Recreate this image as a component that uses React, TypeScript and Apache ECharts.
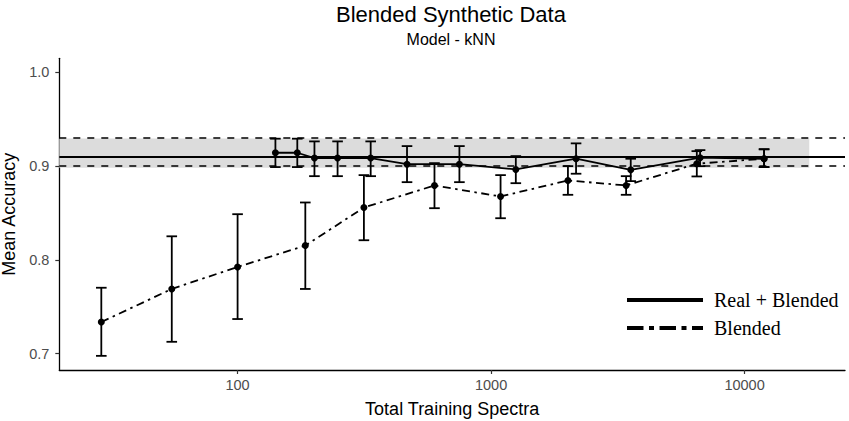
import React, { useEffect, useRef } from "react";
import * as echarts from "echarts";

// ---- data ----
const xBlended = [29, 55, 100, 185, 315, 598, 1090, 2010, 3410, 6480, 11940];
const blendedMean = [0.7336, 0.7689, 0.7924, 0.8152, 0.8558, 0.8794, 0.8676, 0.8847, 0.8794, 0.9026, 0.9079];
const blendedLow = [0.6975, 0.7125, 0.7368, 0.7689, 0.8209, 0.8551, 0.8444, 0.8694, 0.8694, 0.889, 0.899];
const blendedHigh = [0.7702, 0.8251, 0.8487, 0.8612, 0.8904, 0.9032, 0.8904, 0.9, 0.8893, 0.916, 0.918];

const xRealBlended = [141, 172, 201, 248, 335, 466, 750, 1252, 2164, 3556, 6675, 11940];
const realMean = [0.9143, 0.9143, 0.9086, 0.9086, 0.9086, 0.9021, 0.9021, 0.8965, 0.9079, 0.8961, 0.909, 0.9079];
const realLow = [0.899, 0.899, 0.8893, 0.8893, 0.8893, 0.8829, 0.8829, 0.8818, 0.8919, 0.884, 0.9, 0.899];
const realHigh = [0.9293, 0.9293, 0.9264, 0.9264, 0.9264, 0.9214, 0.9214, 0.9107, 0.9243, 0.9079, 0.9171, 0.918];

const refMean = 0.9136;
const refLow = 0.8983;
const refHigh = 0.9296;
const bandEnd = 18000;

const xTicks = [100, 1000, 10000];
const yTicks = [0.7, 0.8, 0.9, 1.0];

const X_MIN = 19.8;
const X_MAX = 24900;
const Y_MIN = 0.6824;
const Y_MAX = 1.0151;

const SANS = "Liberation Sans, Arial, sans-serif";
const SERIF = "Liberation Serif, Times New Roman, serif";
const DASHDOT = [8, 4.5, 2.5, 4.5];

const errorBarItem = (params: any, api: any) => {
  const x = api.value(0);
  const top = api.coord([x, api.value(2)]);
  const bot = api.coord([x, api.value(1)]);
  const hw = 5.3;
  const style = { stroke: "#000", lineWidth: 1.8, fill: null };
  return {
    type: "group",
    children: [
      { type: "line", shape: { x1: top[0], y1: top[1], x2: bot[0], y2: bot[1] }, style },
      { type: "line", shape: { x1: top[0] - hw, y1: top[1], x2: top[0] + hw, y2: top[1] }, style },
      { type: "line", shape: { x1: bot[0] - hw, y1: bot[1], x2: bot[0] + hw, y2: bot[1] }, style },
    ],
  };
};

const bandItem = (params: any, api: any) => {
  const p1 = api.coord([api.value(0), api.value(3)]);
  const p2 = api.coord([api.value(1), api.value(2)]);
  return {
    type: "rect",
    shape: { x: p1[0], y: p1[1], width: p2[0] - p1[0], height: p2[1] - p1[1] },
    style: { fill: "#DCDCDC" },
  };
};

export default function App() {
  const ref = useRef<HTMLDivElement>(null);
  useEffect(() => {
    if (!ref.current) return;
    const chart = echarts.init(ref.current, undefined, { renderer: "svg" });
    const option: any = {
      animation: false,
      backgroundColor: "#ffffff",
      title: [
        {
          text: "Blended Synthetic Data",
          left: 451,
          top: 3,
          padding: 0,
          textAlign: "center",
          textStyle: { fontFamily: SANS, fontSize: 22, fontWeight: "normal", color: "#000" },
        },
        {
          text: "Model - kNN",
          left: 451,
          top: 31,
          padding: 0,
          textAlign: "center",
          textStyle: { fontFamily: SANS, fontSize: 16, fontWeight: "normal", color: "#000" },
        },
      ],
      legend: {
        left: 625,
        top: 290,
        orient: "vertical",
        padding: 0,
        itemWidth: 76,
        itemHeight: 20,
        itemGap: 8,
        selectedMode: false,
        itemStyle: { opacity: 0 },
        textStyle: { fontFamily: SERIF, fontSize: 20, color: "#000", padding: [0, 0, 0, 6] },
        data: [
          { name: "Real + Blended", itemStyle: { opacity: 0 }, lineStyle: { width: 4, type: "solid", color: "#000" } },
          { name: "Blended", itemStyle: { opacity: 0 }, lineStyle: { width: 4, type: [16.5, 5.5, 5, 5.5], color: "#000" } },
        ],
      },
      grid: { left: 59.3, right: 4, top: 58.3, bottom: 51, containLabel: false, outerBoundsMode: "none" },
      xAxis: {
        type: "log",
        logBase: 10,
        min: X_MIN,
        max: X_MAX,
        name: "Total Training Spectra",
        nameLocation: "middle",
        nameGap: 30,
        nameTextStyle: { fontFamily: SANS, fontSize: 18, color: "#000" },
        axisLine: { show: true, lineStyle: { color: "#000", width: 1.3 } },
        axisTick: { show: true, length: 4, lineStyle: { color: "#333", width: 1.2 }, customValues: xTicks },
        axisLabel: {
          customValues: xTicks,
          margin: 7,
          fontFamily: SANS,
          fontSize: 14.5,
          color: "#4D4D4D",
          formatter: (v: number) => String(Math.round(v)),
        },
        splitLine: { show: false },
        minorTick: { show: false },
      },
      yAxis: {
        type: "value",
        min: Y_MIN,
        max: Y_MAX,
        name: "Mean Accuracy",
        nameLocation: "middle",
        nameGap: 40,
        nameTextStyle: { fontFamily: SANS, fontSize: 18, color: "#000" },
        axisLine: { show: true, lineStyle: { color: "#000", width: 1.3 } },
        axisTick: { show: true, length: 4, lineStyle: { color: "#333", width: 1.2 }, customValues: yTicks },
        axisLabel: {
          customValues: yTicks,
          margin: 10,
          fontFamily: SANS,
          fontSize: 14.5,
          color: "#4D4D4D",
          formatter: (v: number) => v.toFixed(1),
        },
        splitLine: { show: false },
      },
      series: [
        {
          name: "band",
          type: "custom",
          z: 1,
          silent: true,
          renderItem: bandItem,
          encode: { x: [0, 1], y: [2, 3] },
          data: [[X_MIN, bandEnd, refLow, refHigh]],
          markLine: {
            silent: true,
            symbol: "none",
            label: { show: false },
            data: [
              { yAxis: refMean, lineStyle: { type: "solid", color: "#000", width: 1.9 } },
              { yAxis: refLow, lineStyle: { type: [7, 7], color: "#000", width: 1.7 } },
              { yAxis: refHigh, lineStyle: { type: [7, 7], color: "#000", width: 1.7 } },
            ],
          },
        },
        {
          name: "Real + Blended",
          type: "line",
          z: 4,
          data: xRealBlended.map((x, i) => [x, realMean[i]]),
          symbol: "circle",
          symbolSize: 7,
          itemStyle: { color: "#000" },
          lineStyle: { color: "#000", width: 1.8, type: "solid" },
        },
        {
          name: "Blended",
          type: "line",
          z: 4,
          data: xBlended.map((x, i) => [x, blendedMean[i]]),
          symbol: "circle",
          symbolSize: 7,
          itemStyle: { color: "#000" },
          lineStyle: { color: "#000", width: 1.8, type: DASHDOT },
        },
        {
          name: "errReal",
          type: "custom",
          z: 3,
          silent: true,
          renderItem: errorBarItem,
          encode: { x: 0, y: [1, 2] },
          data: xRealBlended.map((x, i) => [x, realLow[i], realHigh[i]]),
        },
        {
          name: "errBlended",
          type: "custom",
          z: 3,
          silent: true,
          renderItem: errorBarItem,
          encode: { x: 0, y: [1, 2] },
          data: xBlended.map((x, i) => [x, blendedLow[i], blendedHigh[i]]),
        },
      ],
    };
    chart.setOption(option);
    return () => chart.dispose();
  }, []);
  return (
    <div
      ref={ref}
      style={{ position: "fixed", left: 0, top: 0, width: 849, height: 421, background: "#fff" }}
    />
  );
}
